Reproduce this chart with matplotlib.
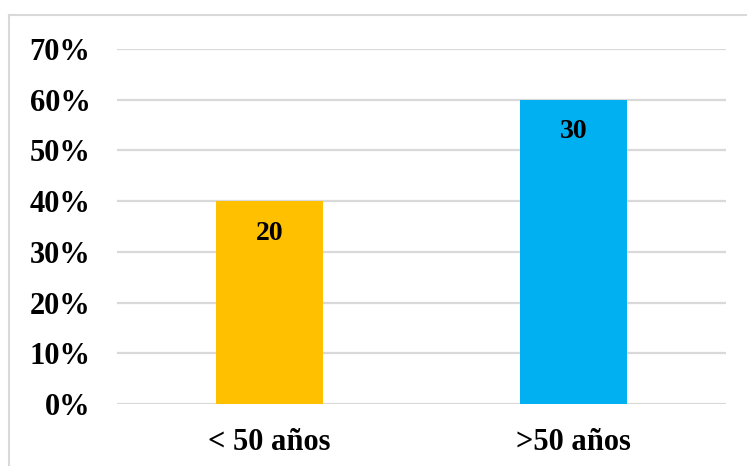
import matplotlib.pyplot as plt
from matplotlib.lines import Line2D
import matplotlib.ticker as mtick

categorias = ['< 50 años', '>50 años']
porcentajes = [0.40, 0.60]
cantidades = [20, 30]
colores = ['#FFC000', '#00B0F0']

plt.rcParams['font.family'] = ['Liberation Serif', 'DejaVu Serif']

fig = plt.figure(figsize=(7.47, 4.66), dpi=100)
ax = fig.add_axes([0.1566, 0.133, 0.8153, 0.7618])

x = list(range(len(categorias)))
ax.bar(x, porcentajes, width=0.35, color=colores, zorder=2)

# etiquetas dentro de las barras
for xi, p, c in zip(x, porcentajes, cantidades):
    ax.annotate(str(c), (xi, p), xytext=(0, -32), textcoords='offset pixels',
                ha='center', va='center', fontsize=20, fontweight='bold')

ax.set_xlim(-0.5, 1.5)
ax.set_ylim(0, 0.7)
ax.set_yticks([i / 10 for i in range(8)])
ax.yaxis.set_major_formatter(mtick.PercentFormatter(1.0, decimals=0))
ax.set_xticks(x)
ax.set_xticklabels(categorias)
ax.grid(axis='y', color='#d9d9d9', linewidth=1.6, zorder=0)
for s in ax.spines.values():
    s.set_visible(False)
ax.tick_params(length=0)
ax.tick_params(axis='y', labelsize=22, pad=19)
ax.tick_params(axis='x', labelsize=22, pad=17)
for t in ax.get_xticklabels() + ax.get_yticklabels():
    t.set_fontweight('bold')

# borde del grafico
W, H = 747, 466
fig.add_artist(Line2D([9 / W, 1], [1 - 15 / H, 1 - 15 / H], color='#d9d9d9', lw=1.5))
fig.add_artist(Line2D([9 / W, 9 / W], [0, 1 - 15 / H], color='#d9d9d9', lw=1.5))

fig.savefig('out.png', dpi=100)
